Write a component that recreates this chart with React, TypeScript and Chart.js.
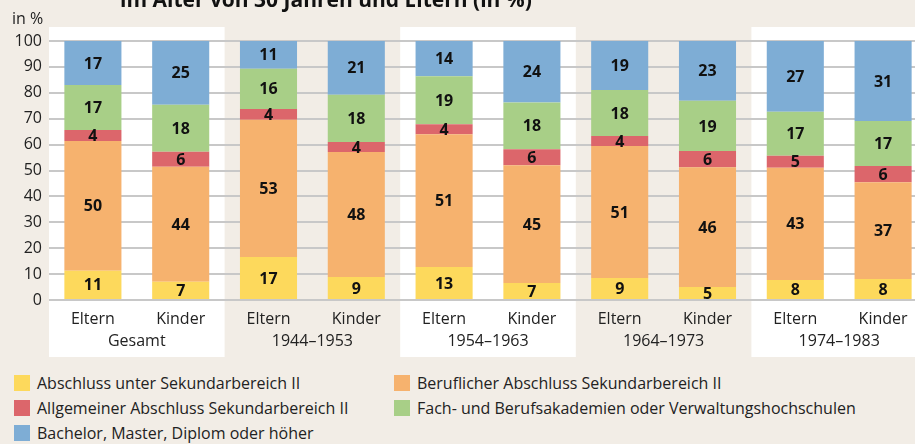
import React, { useEffect, useRef } from "react";
import { Chart, registerables } from "chart.js";

Chart.register(...registerables);

const categories = ["Eltern", "Kinder", "Eltern", "Kinder", "Eltern", "Kinder", "Eltern", "Kinder", "Eltern", "Kinder"];
const groups = ["Gesamt", "1944–1953", "1954–1963", "1964–1973", "1974–1983"];
const seriesNames = [
  "Abschluss unter Sekundarbereich II",
  "Beruflicher Abschluss Sekundarbereich II",
  "Allgemeiner Abschluss Sekundarbereich II",
  "Fach- und Berufsakademien oder Verwaltungshochschulen",
  "Bachelor, Master, Diplom oder höher",
];
const unterSek = [11.3, 7.0, 16.6, 8.9, 12.7, 6.6, 8.5, 5.0, 7.7, 8.1];
const beruflich = [50.1, 44.4, 53.0, 48.2, 51.3, 45.4, 51.0, 46.3, 43.4, 37.4];
const allgemein = [4.2, 5.8, 4.1, 3.9, 3.9, 6.2, 3.8, 6.2, 4.6, 6.2];
const fachAkad = [17.4, 18.2, 15.6, 18.2, 18.5, 18.1, 17.8, 19.4, 17.0, 17.4];
const bachelor = [17.0, 24.6, 10.7, 20.8, 13.6, 23.7, 18.9, 23.1, 27.3, 30.9];
const yTicks = [0, 10, 20, 30, 40, 50, 60, 70, 80, 90, 100];

const colors = ["#fdd95c", "#f6b26e", "#dc666b", "#a8cf87", "#7eadd5"];
const BG = "#f2ede6";
const FONT = "'Open Sans', 'Noto Sans', sans-serif";

export default function App() {
  const ref = useRef<HTMLCanvasElement | null>(null);

  useEffect(() => {
    document.body.style.margin = "0";
    document.body.style.background = BG;
    document.body.style.overflow = "hidden";
    const canvas = ref.current;
    if (!canvas) return;
    const seriesData = [unterSek, beruflich, allgemein, fachAkad, bachelor];

    const panelPlugin = {
      id: "panels",
      beforeDraw(chart: any) {
        const ctx = chart.ctx;
        const xs = chart.scales.x;
        const half = (xs.getPixelForValue(1) - xs.getPixelForValue(0)) / 2;
        ctx.save();
        for (let g = 0; g < groups.length; g++) {
          if (g % 2 === 0) {
            const l = xs.getPixelForValue(g * 2) - half;
            const r = xs.getPixelForValue(g * 2 + 1) + half;
            ctx.fillStyle = "#ffffff";
            ctx.fillRect(l, 27, r - l, 330);
          }
        }
        ctx.restore();
      },
      afterDraw(chart: any) {
        const ctx = chart.ctx;
        const xs = chart.scales.x;
        ctx.save();
        ctx.fillStyle = "#111";
        ctx.font = `bold 16px ${FONT}`;
        ctx.textAlign = "center";
        ctx.textBaseline = "middle";
        chart.data.datasets.forEach((ds: any, di: number) => {
          const meta = chart.getDatasetMeta(di);
          meta.data.forEach((el: any, i: number) => {
            const v = ds.data[i];
            const y = (el.y + el.base) / 2;
            ctx.fillText(String(Math.round(v)), el.x, y + 1);
          });
        });
        ctx.font = `16px ${FONT}`;
        ctx.fillStyle = "#222";
        for (let g = 0; g < groups.length; g++) {
          const cx = (xs.getPixelForValue(g * 2) + xs.getPixelForValue(g * 2 + 1)) / 2;
          ctx.fillText(groups[g], cx, 341);
        }
        ctx.textAlign = "left";
        ctx.fillText("in %", 12, 19);
        ctx.restore();
      },
    };

    const chart = new Chart(canvas, {
      type: "bar",
      data: {
        labels: categories,
        datasets: seriesNames.map((name, i) => ({
          label: name,
          data: seriesData[i],
          backgroundColor: colors[i],
          borderWidth: 0,
          barPercentage: 0.65,
          categoryPercentage: 1,
        })),
      },
      options: {
        animation: false,
        responsive: false,
        maintainAspectRatio: false,
        layout: { padding: { top: 41, right: 3, left: 0, bottom: 0 } },
        plugins: { legend: { display: false }, tooltip: { enabled: false }, title: { display: false } },
        scales: {
          x: {
            stacked: true,
            grid: { display: false },
            border: { display: false },
            ticks: { color: "#222", font: { family: FONT, size: 16 }, padding: 2, maxRotation: 0 },
            afterFit(scale: any) {
              scale.height = 65;
            },
          },
          y: {
            stacked: true,
            min: 0,
            max: 100,
            afterBuildTicks(scale: any) {
              scale.ticks = yTicks.map((v) => ({ value: v }));
            },
            grid: { color: "#c8c8c8", lineWidth: 2, drawTicks: false },
            border: { display: false },
            ticks: { color: "#222", font: { family: FONT, size: 16 }, padding: 7 },
            afterFit(scale: any) {
              scale.width = 49;
            },
          },
        },
      },
      plugins: [panelPlugin],
    });
    return () => chart.destroy();
  }, []);

  const legendPos = [
    [14, 383],
    [394, 383],
    [14, 408],
    [394, 408],
    [14, 433],
  ];

  return (
    <div style={{ position: "relative", width: 915, height: 444, overflow: "hidden", background: BG, fontFamily: FONT }}>
      <canvas ref={ref} width={930} height={365} style={{ position: "absolute", left: 0, top: 0, width: 930, height: 365 }} />
      <div
        style={{
          position: "absolute",
          left: 120,
          top: -13,
          fontSize: 21,
          fontWeight: "bold",
          color: "#111",
          whiteSpace: "nowrap",
          lineHeight: "24px",
        }}
      >
        im Alter von 30 Jahren und Eltern (in %)
      </div>
      {seriesNames.map((name, i) => (
        <div
          key={name}
          style={{
            position: "absolute",
            left: legendPos[i][0],
            top: legendPos[i][1] - 10,
            height: 20,
            display: "flex",
            alignItems: "center",
            whiteSpace: "nowrap",
            fontSize: 16,
            color: "#222",
          }}
        >
          <span style={{ display: "inline-block", width: 16, height: 16, background: colors[i], marginRight: 7 }} />
          {name}
        </div>
      ))}
    </div>
  );
}
